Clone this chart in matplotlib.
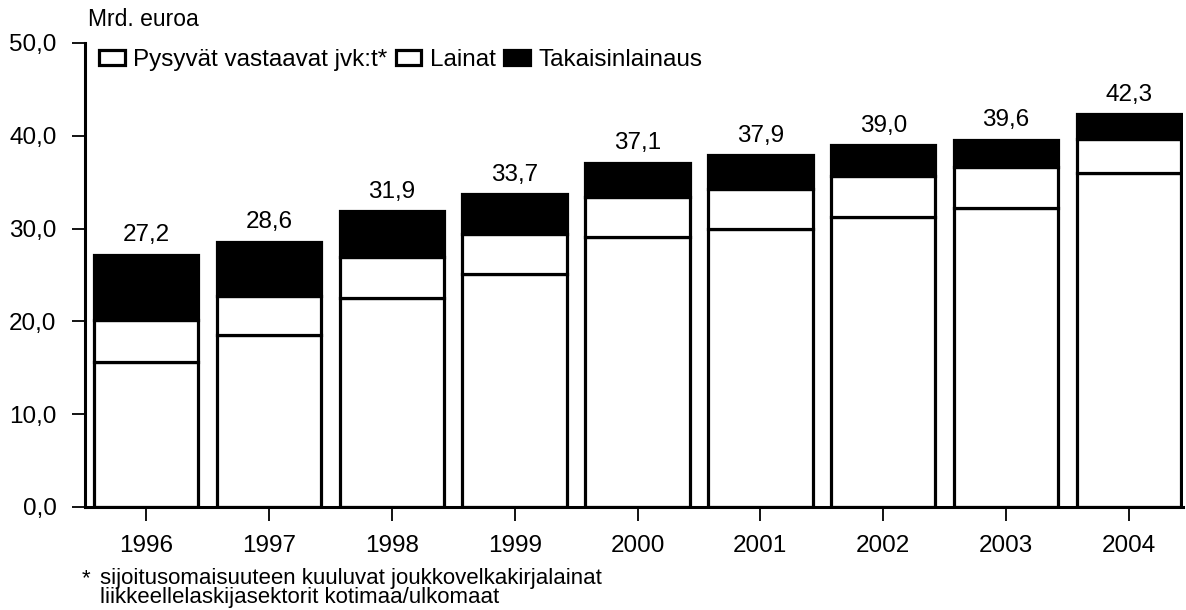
import matplotlib
matplotlib.use("Agg")
import matplotlib.pyplot as plt
import numpy as np

plt.rcParams['font.family'] = ['Liberation Sans', 'DejaVu Sans']

years = ['1996', '1997', '1998', '1999', '2000', '2001', '2002', '2003', '2004']
pysyvat = [15.6, 18.5, 22.5, 25.1, 29.1, 30.0, 31.2, 32.2, 36.0]
lainat = [4.6, 4.2, 4.4, 4.3, 4.3, 4.3, 4.5, 4.4, 3.7]
takaisin = [7.0, 5.9, 5.0, 4.3, 3.7, 3.6, 3.3, 3.0, 2.6]
totals = [27.2, 28.6, 31.9, 33.7, 37.1, 37.9, 39.0, 39.6, 42.3]
yticks = [0, 10, 20, 30, 40, 50]
series_names = ['Pysyvät vastaavat jvk:t*', 'Lainat', 'Takaisinlainaus']
ylabel_text = 'Mrd. euroa'
footnote = ['sijoitusomaisuuteen kuuluvat joukkovelkakirjalainat',
            'liikkeellelaskijasektorit kotimaa/ulkomaat']

W, H = 1186, 610
fig = plt.figure(figsize=(W / 100, H / 100), dpi=100)
ax = fig.add_axes([85 / W, 1 - 507 / H, (1183 - 85) / W, (507 - 43) / H])

x = np.arange(len(years))
bw = 0.85
lw = 2.3
b1 = ax.bar(x, pysyvat, bw, color='white', edgecolor='black', linewidth=lw,
            label=series_names[0])
bottom2 = np.array(pysyvat)
b2 = ax.bar(x, lainat, bw, bottom=bottom2, color='white', edgecolor='black',
            linewidth=lw, label=series_names[1])
bottom3 = bottom2 + np.array(lainat)
b3 = ax.bar(x, takaisin, bw, bottom=bottom3, color='black', edgecolor='black',
            linewidth=lw, label=series_names[2])

for xi, tot in zip(x, totals):
    ax.annotate(f'{tot:.1f}'.replace('.', ','), (xi, tot), xytext=(0, 6),
                textcoords='offset points', ha='center', va='bottom',
                fontsize=17.5)

ax.set_xlim(-0.497, 8.44)
ax.set_ylim(0, 50)
ax.set_yticks(yticks)
ax.set_yticklabels([f'{v:.1f}'.replace('.', ',') for v in yticks], fontsize=17.5)
ax.set_xticks(x)
ax.set_xticklabels(years, fontsize=17.5)
ax.tick_params(axis='y', direction='out', length=9.5, width=1.3, pad=11)
ax.tick_params(axis='x', direction='out', length=10, width=1.3, pad=10)
for s in ['top', 'right']:
    ax.spines[s].set_visible(False)
ax.spines['left'].set_linewidth(2.2)
ax.spines['bottom'].set_linewidth(2.2)

fig.text(88 / W, 1 - 20 / H, ylabel_text, fontsize=16.5, va='center', ha='left')

leg = ax.legend(handles=[b1, b2, b3], ncol=3, frameon=False, fontsize=17.5,
                loc='center left', bbox_to_anchor=(99 / W, 1 - 60 / H),
                bbox_transform=fig.transFigure, borderpad=0, borderaxespad=0,
                handlelength=1.05, handleheight=0.6, handletextpad=0.35,
                columnspacing=0.35)

fig.text(82 / W, 1 - 579 / H, '*', fontsize=16, va='center', ha='left')
fig.text(100 / W, 1 - 588 / H, '\n'.join(footnote), fontsize=16, va='center',
         ha='left', linespacing=0.92)

fig.savefig('out.png', dpi=100)
